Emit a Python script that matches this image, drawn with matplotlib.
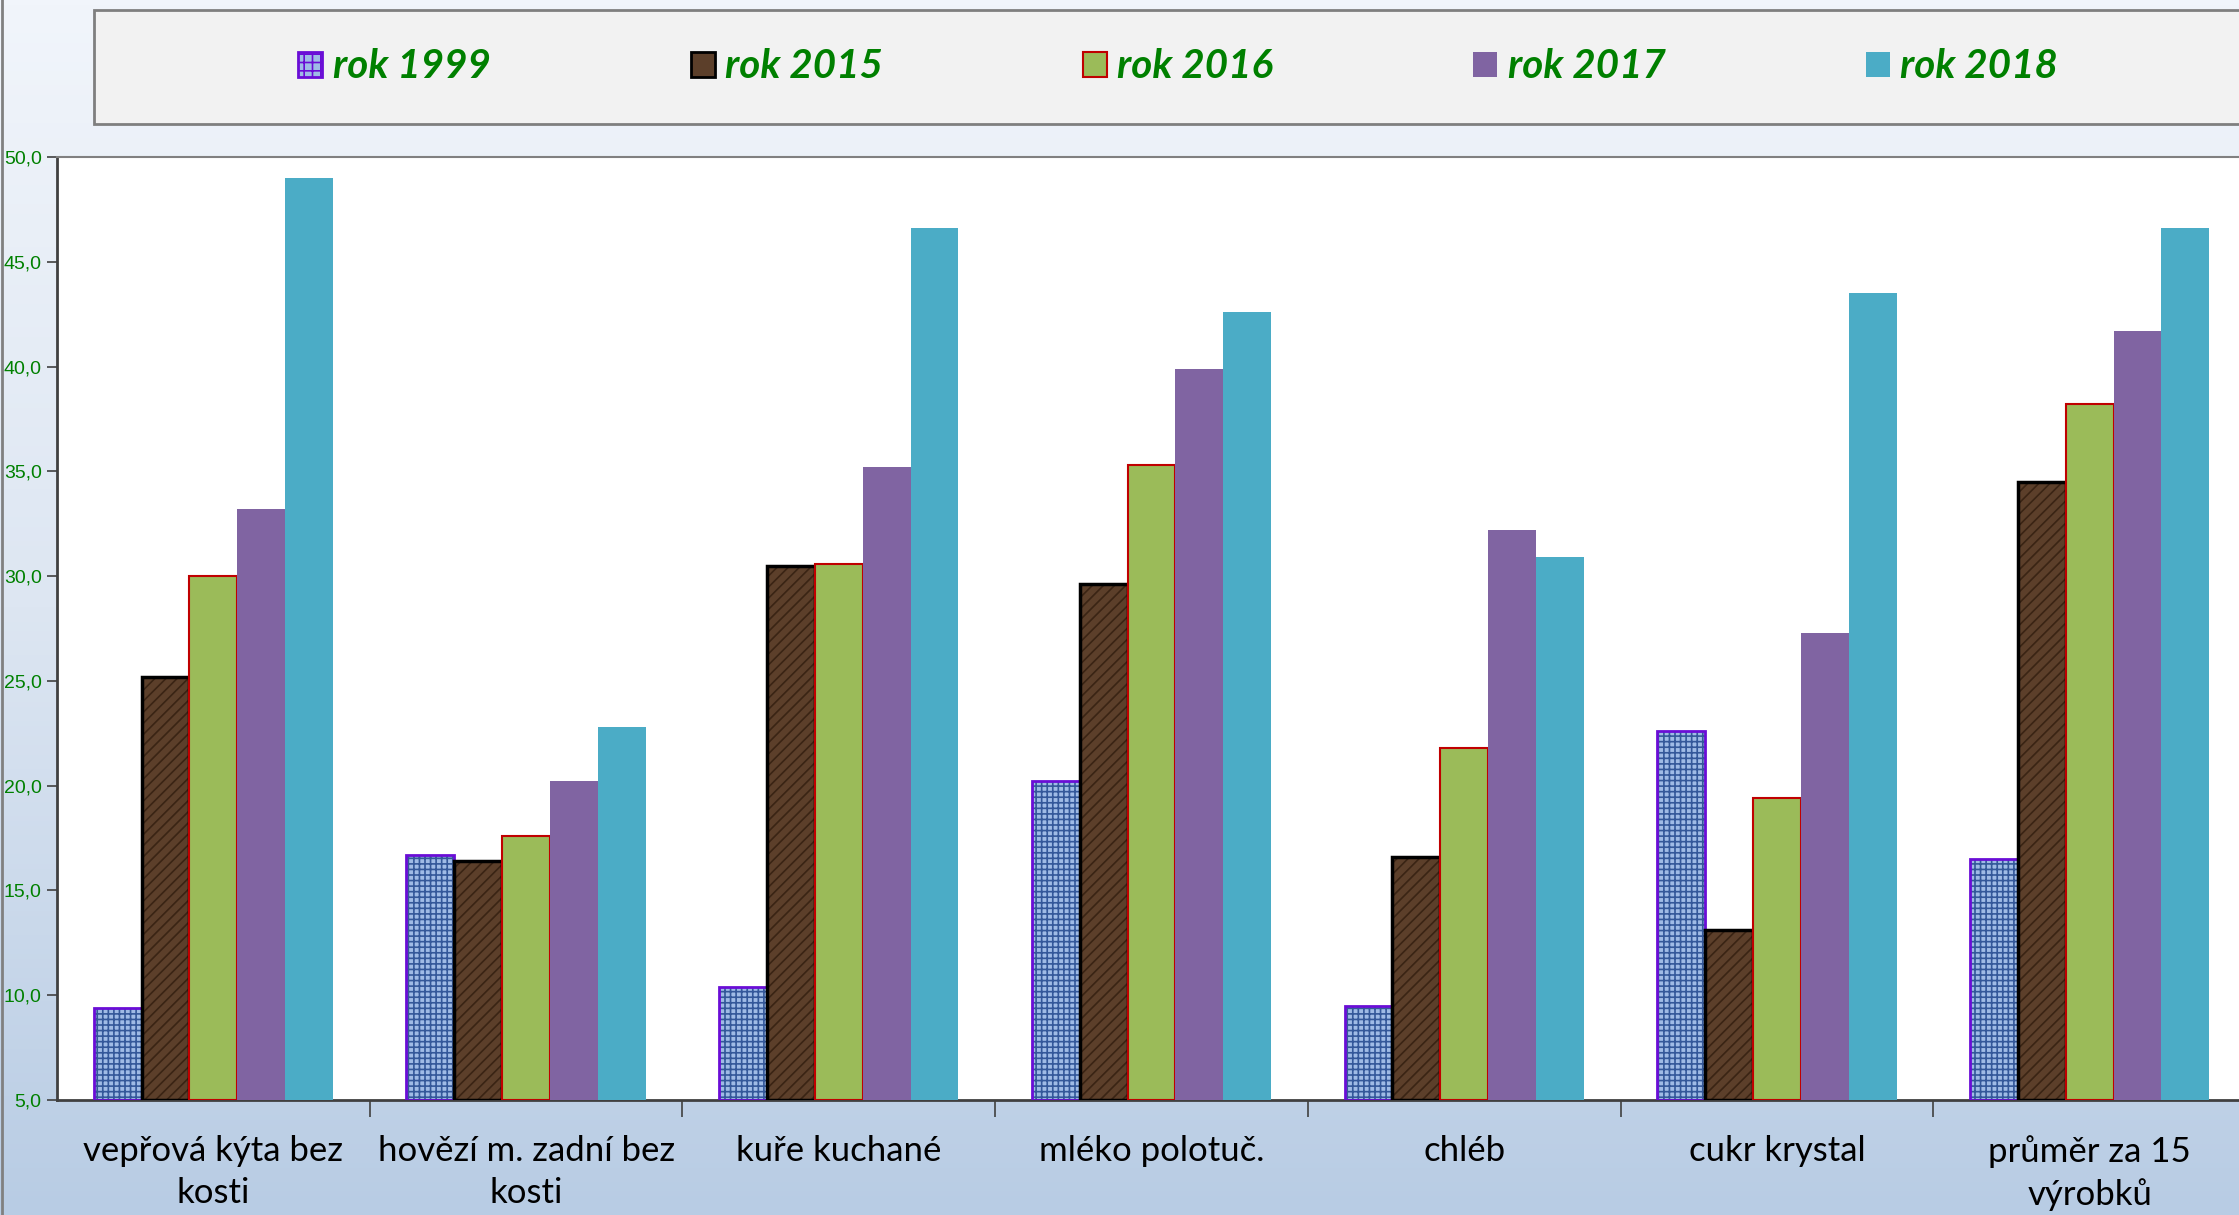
import numpy as np
import matplotlib
matplotlib.use("Agg")
import matplotlib.pyplot as plt
from matplotlib.patches import Patch, Rectangle
from matplotlib.colors import LinearSegmentedColormap

categories = ["vepřová kýta bez\nkosti", "hovězí m. zadní bez\nkosti", "kuře kuchané",
              "mléko polotuč.", "chléb", "cukr krystal", "průměr za 15\nvýrobků"]
series_names = ["rok 1999", "rok 2015", "rok 2016", "rok 2017", "rok 2018"]
v1999 = [9.4, 16.7, 10.4, 20.2, 9.5, 22.6, 16.5]
v2015 = [25.2, 16.4, 30.5, 29.6, 16.6, 13.1, 34.5]
v2016 = [30.0, 17.6, 30.6, 35.3, 21.8, 19.4, 38.2]
v2017 = [33.2, 20.2, 35.2, 39.9, 32.2, 27.3, 41.7]
v2018 = [49.0, 22.8, 46.6, 42.6, 30.9, 43.5, 46.6]
yticks = [5, 10, 15, 20, 25, 30, 35, 40, 45, 50]

W, H = 2239, 1215
plt.rcParams['hatch.linewidth'] = 1.2
fig = plt.figure(figsize=(W / 100, H / 100), dpi=100)

# background gradient
bg = fig.add_axes([0, 0, 1, 1], zorder=-10)
cmap = LinearSegmentedColormap.from_list("bg", ["#f1f5fb", "#dde6f2", "#b8cce4"])
bg.imshow(np.linspace(0, 1, 256).reshape(-1, 1), aspect='auto', cmap=cmap,
          extent=[0, 1, 0, 1], origin='upper')
bg.set_axis_off()
bg.plot([0.0008, 0.0008], [0, 1], color="#808080", lw=2, transform=bg.transAxes)

# legend box
fig.patches.append(Rectangle((94 / W, 1 - 124 / H), 1.0, (124 - 10) / H,
                             transform=fig.transFigure, facecolor="#f2f2f2",
                             edgecolor="#7f7f7f", lw=2, zorder=1))

left, right, top, bottom = 57, 2246, 157, 1100
ax = fig.add_axes([left / W, 1 - bottom / H, (right - left) / W, (bottom - top) / H])
ax.set_facecolor("white")

x = np.arange(len(categories))
bw = 0.153
off = [(i - 2) * bw for i in range(5)]

# 1999 textured
ax.bar(x + off[0], np.array(v1999) - 5, bw, bottom=5, facecolor="#9fbbe6",
       edgecolor="#34589a", hatch="+++", lw=0, zorder=2)
ax.bar(x + off[0], np.array(v1999) - 5, bw, bottom=5, fill=False,
       edgecolor="#6a0dd6", lw=2, zorder=3)
# 2015 brown
ax.bar(x + off[1], np.array(v2015) - 5, bw, bottom=5, facecolor="#5c3f2a",
       edgecolor="#3a2414", hatch="///", lw=0, zorder=2)
ax.bar(x + off[1], np.array(v2015) - 5, bw, bottom=5, fill=False,
       edgecolor="black", lw=2.5, zorder=3)
# 2016 green
ax.bar(x + off[2], np.array(v2016) - 5, bw, bottom=5, facecolor="#9bbb59",
       edgecolor="#c00000", lw=1.5, zorder=3)
# 2017 purple
ax.bar(x + off[3], np.array(v2017) - 5, bw, bottom=5, facecolor="#8064a2",
       edgecolor="none", zorder=3)
# 2018 teal
ax.bar(x + off[4], np.array(v2018) - 5, bw, bottom=5, facecolor="#4bacc6",
       edgecolor="none", zorder=3)

ax.set_xlim(-0.5, len(categories) - 0.5)
ax.set_ylim(5, 50)
ax.set_yticks(yticks)
ax.set_yticklabels([f"{v:.1f}".replace(".", ",") for v in yticks],
                   color="#008000", fontsize=14, family="Liberation Sans")
ax.tick_params(axis='y', direction='out', length=7, width=1.2, color="#404040", pad=4)

ax.set_xticks(x)
ax.set_xticklabels(categories, fontsize=25, family="Lato", color="black", linespacing=1.38)
ax.tick_params(axis='x', length=0, pad=25)
ax.set_xticks(np.arange(0.5, len(categories) - 0.5, 1), minor=True)
ax.tick_params(axis='x', which='minor', direction='out', length=12, width=1.2, color="#404040")

for s in ["left", "bottom"]:
    ax.spines[s].set_color("#404040")
    ax.spines[s].set_linewidth(2)
ax.spines["top"].set_color("#808080")
ax.spines["top"].set_linewidth(1.5)
ax.spines["right"].set_visible(False)

handles = [
    Patch(facecolor="#9fbbe6", edgecolor="#6a0dd6", hatch="++", lw=2),
    Patch(facecolor="#5c3f2a", edgecolor="black", lw=2),
    Patch(facecolor="#9bbb59", edgecolor="#c00000", lw=1.5),
    Patch(facecolor="#8064a2", edgecolor="none"),
    Patch(facecolor="#4bacc6", edgecolor="none"),
]
leg = fig.legend(handles, series_names, ncol=5, loc="center",
                 bbox_to_anchor=(1178 / W, 1 - 67 / H), frameon=False,
                 prop={"family": "Lato", "weight": "bold", "style": "italic", "size": 29},
                 handlelength=0.6, handleheight=0.6, handletextpad=0.25,
                 columnspacing=4.97)
for t in leg.get_texts():
    t.set_color("#008000")

fig.savefig("out.png", dpi=100)
